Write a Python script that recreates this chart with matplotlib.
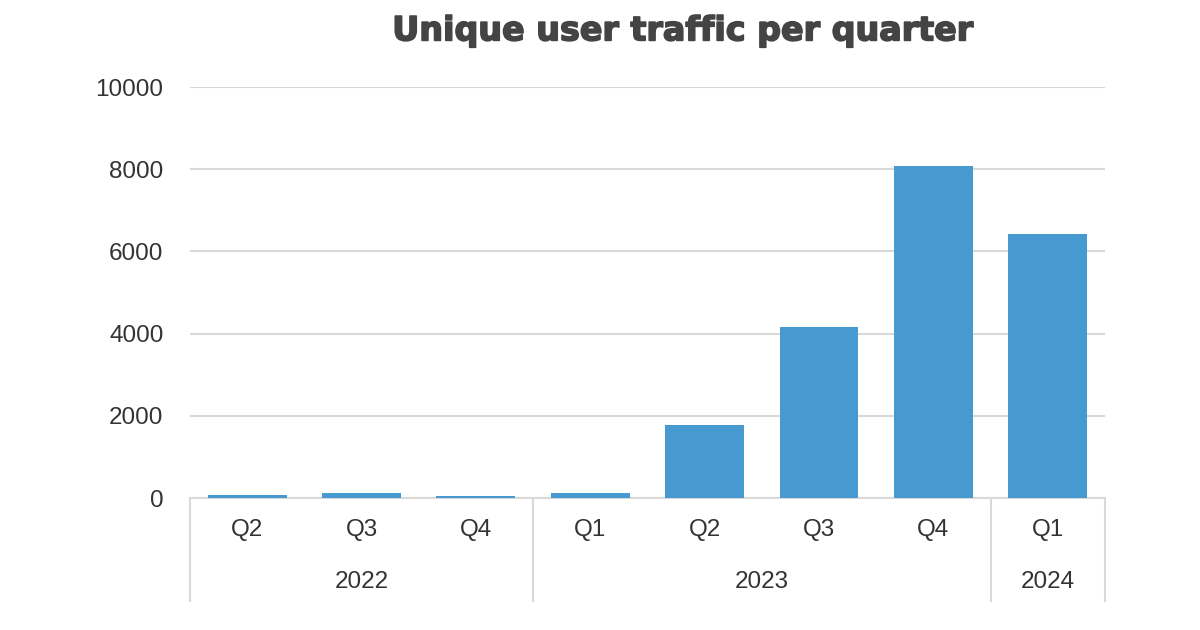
import numpy as np
import matplotlib.pyplot as plt
import matplotlib.patheffects as pe

# данные
quarters = ['Q2', 'Q3', 'Q4', 'Q1', 'Q2', 'Q3', 'Q4', 'Q1']
years = ['2022', '2023', '2024']
year_counts = [3, 4, 1]  # сколько кварталов в каждом году
traffic = [70, 120, 60, 120, 1780, 4160, 8070, 6420]

bar_color = '#479acf'
grid_color = '#d9d9d9'
text_color = '#333333'
lbl_size = 17.5

plt.rcParams['font.family'] = ['Liberation Sans', 'DejaVu Sans']

fig = plt.figure(figsize=(12, 6.3), dpi=100)
ax = fig.add_axes([0.1583, 0.2095, 0.7625, 0.6524])

x = np.arange(len(quarters))
ax.bar(x, traffic, width=0.69, color=bar_color, zorder=3)

ax.set_xlim(-0.5, len(quarters) - 0.5)
ax.set_ylim(0, 10000)
ax.set_yticks([0, 2000, 4000, 6000, 8000, 10000])
ax.yaxis.grid(True, color=grid_color, linewidth=1.5, zorder=0)
ax.tick_params(axis='y', length=0, pad=19, labelsize=lbl_size, labelcolor=text_color)

ax.set_xticks(x)
ax.set_xticklabels(quarters)
ax.tick_params(axis='x', length=0, pad=15, labelsize=lbl_size, labelcolor=text_color)

for side in ['left', 'right', 'top']:
    ax.spines[side].set_visible(False)
ax.spines['bottom'].set_color(grid_color)
ax.spines['bottom'].set_linewidth(1.5)

# двухуровневая ось категорий
trans = ax.get_xaxis_transform()
start = 0
bounds = [-0.5]
for yr, n in zip(years, year_counts):
    center = start + (n - 1) / 2
    ax.text(center, -0.205, yr, transform=trans, ha='center', va='center',
            fontsize=lbl_size, color=text_color)
    start += n
    bounds.append(start - 0.5)
for b in bounds:
    ax.plot([b, b], [0, -0.25], transform=trans, color=grid_color,
            linewidth=1.5, clip_on=False)

fig.text(0.569, 0.951, 'Unique user traffic per quarter', ha='center', va='center',
         fontsize=24, fontweight='bold', color='#444444', family='DejaVu Sans',
         path_effects=[pe.withStroke(linewidth=1.2, foreground='#444444')])

plt.savefig('out.png', dpi=100)
